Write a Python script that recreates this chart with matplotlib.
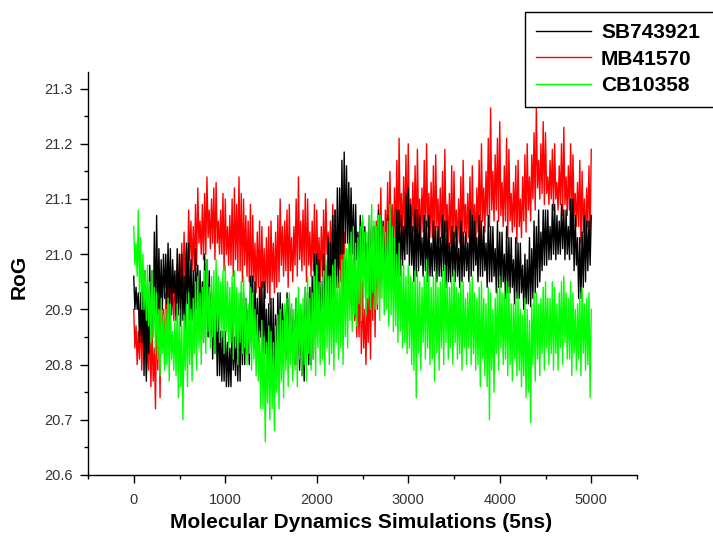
import numpy as np
import matplotlib
matplotlib.use('Agg')
import matplotlib.pyplot as plt
from matplotlib.ticker import MultipleLocator

plt.rcParams['font.family'] = ['Liberation Sans', 'DejaVu Sans']

# one sample every 12.5 units; each 50-unit block is hi1, lo1, hi2, lo2
step = 12.5
labels = ['SB743921', 'MB41570', 'CB10358']
colors = ['#000000', '#ff0000', '#00ff00']

sb_hi1 = [20.96, 20.93, 20.95, 20.92, 20.97, 21.07, 20.99, 21.00, 21.01, 20.97,
          21.00, 20.96, 21.02, 20.97, 20.98, 20.95, 20.99, 20.93, 20.92, 20.86,
          20.86, 20.83, 20.85, 20.88, 20.93, 20.90, 20.96, 20.92, 20.95, 20.90,
          20.92, 20.89, 20.93, 20.90, 20.92, 20.88, 20.90, 20.89, 20.93, 20.96,
          21.00, 20.95, 20.98, 21.02, 21.08, 21.12, 21.185, 21.13, 21.09, 21.04,
          21.06, 21.02, 21.05, 21.01, 21.07, 21.02, 21.05, 21.03, 21.08, 21.05,
          21.12, 21.05, 21.08, 21.03, 21.06, 21.02, 21.05, 21.03, 21.06, 21.02,
          21.04, 21.01, 21.04, 21.02, 21.07, 21.03, 21.06, 21.02, 21.05, 21.01,
          21.04, 21.00, 21.03, 20.99, 21.02, 20.98, 20.99, 21.01, 21.05, 21.04,
          21.08, 21.05, 21.09, 21.06, 21.08, 21.05, 21.10, 21.03, 21.04, 21.06,
          21.07]
sb_lo1 = [20.90, 20.84, 20.78, 20.82, 20.86, 20.89, 20.90, 20.91, 20.89, 20.88,
          20.87, 20.86, 20.88, 20.85, 20.87, 20.84, 20.85, 20.81, 20.78, 20.77,
          20.76, 20.76, 20.78, 20.77, 20.80, 20.80, 20.83, 20.81, 20.82, 20.80,
          20.77, 20.78, 20.82, 20.81, 20.82, 20.80, 20.79, 20.77, 20.80, 20.81,
          20.87, 20.86, 20.88, 20.88, 20.94, 21.00, 21.02, 21.00, 20.98, 20.96,
          20.97, 20.95, 20.96, 20.94, 20.96, 20.94, 20.96, 20.95, 20.96, 20.99,
          20.98, 20.95, 20.97, 20.96, 20.95, 20.96, 20.95, 20.96, 20.94, 20.95,
          20.95, 20.94, 20.96, 20.95, 20.97, 20.95, 20.96, 20.94, 20.95, 20.93,
          20.94, 20.92, 20.93, 20.91, 20.92, 20.90, 20.91, 20.92, 20.94, 20.97,
          20.98, 20.99, 20.99, 21.00, 20.99, 20.99, 20.97, 20.92, 20.94, 20.97]
sb_hi2 = [20.94, 20.93, 20.97, 20.98, 21.04, 21.01, 21.00, 21.02, 20.99, 21.01,
          21.00, 21.02, 20.99, 21.01, 20.97, 21.00, 20.97, 20.92, 20.90, 20.86,
          20.84, 20.88, 20.87, 20.93, 20.92, 20.96, 20.95, 20.94, 20.95, 20.91,
          20.92, 20.93, 20.91, 20.93, 20.90, 20.92, 20.90, 20.94, 20.94, 21.00,
          20.99, 21.00, 21.03, 21.07, 21.12, 21.17, 21.16, 21.12, 21.09, 21.07,
          21.05, 21.07, 21.05, 21.08, 21.06, 21.07, 21.05, 21.08, 21.07, 21.11,
          21.09, 21.08, 21.07, 21.07, 21.07, 21.06, 21.05, 21.07, 21.06, 21.05,
          21.05, 21.06, 21.04, 21.08, 21.06, 21.07, 21.05, 21.07, 21.05, 21.06,
          21.04, 21.05, 21.03, 21.03, 21.02, 21.00, 21.03, 21.06, 21.08, 21.08,
          21.08, 21.09, 21.07, 21.09, 21.08, 21.10, 21.07, 21.03, 21.07, 21.06]
sb_lo2 = [20.90, 20.84, 20.77, 20.86, 20.88, 20.90, 20.92, 20.91, 20.93, 20.89,
          20.88, 20.91, 20.88, 20.90, 20.87, 20.89, 20.85, 20.82, 20.78, 20.77,
          20.76, 20.79, 20.77, 20.80, 20.82, 20.84, 20.83, 20.85, 20.82, 20.80,
          20.76, 20.82, 20.83, 20.85, 20.82, 20.80, 20.78, 20.81, 20.80, 20.85,
          20.87, 20.89, 20.88, 20.92, 20.95, 21.00, 21.02, 21.00, 20.99, 20.98,
          20.98, 20.96, 20.97, 20.95, 20.96, 20.95, 20.97, 20.96, 20.98, 21.00,
          20.98, 20.96, 20.98, 20.97, 20.96, 20.97, 20.96, 20.97, 20.95, 20.96,
          20.96, 20.95, 20.97, 20.96, 20.98, 20.96, 20.97, 20.95, 20.96, 20.94,
          20.95, 20.93, 20.94, 20.92, 20.93, 20.91, 20.905, 20.93, 20.95, 20.98,
          20.99, 21.00, 21.00, 21.01, 21.00, 21.00, 20.98, 20.92, 20.95, 20.98]

mb_hi1 = [20.90, 20.86, 20.88, 20.84, 20.86, 20.90, 20.95, 20.93, 20.99, 20.96,
          21.00, 21.04, 21.08, 21.05, 21.12, 21.09, 21.14, 21.10, 21.13, 21.08,
          21.10, 21.07, 21.12, 21.14, 21.10, 21.06, 21.07, 21.04, 21.05, 21.03,
          21.06, 21.04, 21.10, 21.06, 21.09, 21.05, 21.14, 21.08, 21.10, 21.06,
          21.08, 21.05, 21.10, 21.06, 21.08, 21.03, 21.04, 21.00, 20.99, 20.94,
          20.95, 20.92, 21.00, 21.06, 21.12, 21.08, 21.15, 21.12, 21.21, 21.14,
          21.20, 21.13, 21.19, 21.12, 21.20, 21.13, 21.18, 21.12, 21.19, 21.11,
          21.15, 21.10, 21.17, 21.11, 21.16, 21.12, 21.20, 21.15, 21.265, 21.18,
          21.24, 21.16, 21.19, 21.13, 21.17, 21.14, 21.20, 21.18, 21.27, 21.20,
          21.22, 21.17, 21.20, 21.16, 21.23, 21.16, 21.18, 21.13, 21.15, 21.12,
          21.19]
mb_lo1 = [20.83, 20.81, 20.82, 20.79, 20.77, 20.79, 20.83, 20.84, 20.90, 20.89,
          20.94, 20.93, 20.99, 20.97, 21.02, 20.99, 21.03, 21.02, 21.02, 21.00,
          21.00, 20.98, 20.99, 20.97, 20.98, 20.95, 20.95, 20.94, 20.94, 20.93,
          20.95, 20.94, 20.98, 20.97, 20.97, 20.98, 20.99, 20.98, 20.98, 20.97,
          20.97, 20.96, 21.00, 20.98, 20.97, 20.95, 20.95, 20.91, 20.88, 20.85,
          20.83, 20.84, 20.88, 20.90, 20.99, 21.01, 21.03, 21.02, 21.05, 21.04,
          21.05, 21.04, 21.05, 21.04, 21.05, 21.03, 21.05, 21.03, 21.04, 21.02,
          21.03, 21.02, 21.04, 21.03, 21.03, 21.04, 21.06, 21.07, 21.08, 21.08,
          21.07, 21.06, 21.06, 21.05, 21.05, 21.06, 21.08, 21.10, 21.12, 21.11,
          21.11, 21.10, 21.10, 21.09, 21.09, 21.08, 21.07, 21.05, 21.04, 21.05]
mb_hi2 = [20.87, 20.89, 20.85, 20.88, 20.83, 20.92, 20.90, 20.97, 20.94, 20.98,
          21.02, 21.01, 21.06, 21.09, 21.06, 21.11, 21.08, 21.12, 21.06, 21.11,
          21.05, 21.10, 21.09, 21.11, 21.07, 21.09, 21.02, 21.06, 21.01, 21.05,
          21.02, 21.07, 21.05, 21.08, 21.03, 21.10, 21.06, 21.11, 21.04, 21.09,
          21.03, 21.08, 21.04, 21.09, 21.02, 21.06, 20.99, 21.02, 20.93, 20.97,
          20.90, 20.97, 21.03, 21.09, 21.05, 21.13, 21.09, 21.17, 21.11, 21.18,
          21.10, 21.16, 21.10, 21.17, 21.11, 21.16, 21.10, 21.15, 21.09, 21.16,
          21.08, 21.14, 21.09, 21.14, 21.09, 21.17, 21.12, 21.21, 21.15, 21.21,
          21.13, 21.21, 21.11, 21.16, 21.10, 21.18, 21.14, 21.22, 21.17, 21.24,
          21.14, 21.19, 21.13, 21.20, 21.14, 21.20, 21.11, 21.17, 21.10, 21.16]
mb_lo2 = [20.80, 20.79, 20.78, 20.76, 20.72, 20.74, 20.80, 20.86, 20.88, 20.90,
          20.92, 20.95, 20.97, 20.98, 21.00, 21.00, 21.01, 20.99, 21.00, 20.97,
          20.98, 20.96, 20.97, 20.95, 20.96, 20.92, 20.93, 20.91, 20.92, 20.91,
          20.93, 20.95, 20.96, 20.94, 20.95, 20.96, 20.97, 20.95, 20.96, 20.94,
          20.95, 20.97, 20.98, 20.95, 20.94, 20.92, 20.93, 20.88, 20.85, 20.82,
          20.80, 20.81, 20.85, 20.92, 20.97, 20.99, 21.00, 21.01, 21.03, 21.02,
          21.03, 21.02, 21.03, 21.01, 21.03, 21.01, 21.02, 21.00, 21.01, 21.00,
          21.01, 21.00, 21.02, 21.00, 21.01, 21.02, 21.04, 21.05, 21.06, 21.06,
          21.05, 21.03, 21.04, 21.02, 21.03, 21.04, 21.06, 21.08, 21.10, 21.09,
          21.09, 21.08, 21.08, 21.07, 21.07, 21.06, 21.05, 21.02, 21.01, 21.03]

cb_hi1 = [21.05, 21.08, 21.00, 20.98, 20.97, 20.93, 20.92, 20.90, 20.91, 20.88,
          20.90, 20.89, 20.93, 20.92, 20.96, 20.94, 20.99, 20.96, 20.99, 20.95,
          20.98, 20.94, 20.97, 20.93, 20.96, 20.91, 20.93, 20.89, 20.88, 20.84,
          20.86, 20.87, 20.90, 20.91, 20.93, 20.90, 20.94, 20.92, 20.96, 20.93,
          20.98, 20.95, 20.99, 20.96, 20.99, 20.97, 21.00, 21.02, 21.05, 21.03,
          21.07, 21.04, 21.09, 21.05, 21.07, 21.04, 21.09, 21.03, 21.02, 20.98,
          20.98, 20.95, 20.97, 20.94, 20.99, 20.94, 20.97, 20.95, 20.98, 20.94,
          20.97, 20.93, 20.95, 20.93, 20.96, 20.92, 20.95, 20.91, 20.93, 20.92,
          20.96, 20.93, 20.94, 20.91, 20.92, 20.89, 20.90, 20.91, 20.93, 20.92,
          20.95, 20.92, 20.94, 20.93, 20.96, 20.92, 20.93, 20.91, 20.94, 20.92,
          20.90]
cb_lo1 = [20.98, 20.93, 20.90, 20.87, 20.85, 20.81, 20.82, 20.80, 20.81, 20.78,
          20.76, 20.79, 20.80, 20.82, 20.83, 20.84, 20.86, 20.85, 20.86, 20.85,
          20.86, 20.84, 20.83, 20.84, 20.83, 20.82, 20.81, 20.77, 20.72, 20.73,
          20.72, 20.75, 20.77, 20.79, 20.80, 20.79, 20.81, 20.80, 20.82, 20.81,
          20.83, 20.81, 20.83, 20.82, 20.84, 20.83, 20.85, 20.88, 20.89, 20.91,
          20.92, 20.92, 20.93, 20.91, 20.92, 20.90, 20.89, 20.87, 20.86, 20.84,
          20.83, 20.79, 20.82, 20.84, 20.83, 20.81, 20.82, 20.83, 20.84, 20.83,
          20.84, 20.82, 20.83, 20.83, 20.82, 20.80, 20.81, 20.76, 20.79, 20.82,
          20.83, 20.81, 20.80, 20.81, 20.79, 20.78, 20.75, 20.80, 20.81, 20.82,
          20.83, 20.82, 20.82, 20.83, 20.84, 20.81, 20.82, 20.81, 20.82, 20.80]
cb_hi2 = [21.02, 21.03, 20.97, 20.95, 20.94, 20.90, 20.89, 20.92, 20.86, 20.91,
          20.87, 20.91, 20.90, 20.95, 20.93, 20.97, 20.94, 20.97, 20.96, 20.97,
          20.95, 20.96, 20.94, 20.95, 20.92, 20.94, 20.90, 20.86, 20.85, 20.87,
          20.84, 20.89, 20.88, 20.92, 20.91, 20.92, 20.91, 20.94, 20.92, 20.96,
          20.95, 20.97, 20.96, 20.98, 20.96, 20.99, 21.01, 21.04, 21.02, 21.05,
          21.04, 21.07, 21.06, 21.07, 21.05, 21.06, 21.05, 21.00, 20.99, 20.96,
          20.96, 20.97, 20.95, 20.96, 20.96, 20.96, 20.94, 20.97, 20.95, 20.96,
          20.94, 20.95, 20.92, 20.95, 20.93, 20.94, 20.92, 20.94, 20.90, 20.94,
          20.93, 20.95, 20.91, 20.93, 20.90, 20.92, 20.88, 20.93, 20.91, 20.94,
          20.92, 20.95, 20.91, 20.95, 20.93, 20.95, 20.90, 20.93, 20.91, 20.93]
cb_lo2 = [20.96, 20.90, 20.88, 20.84, 20.82, 20.78, 20.79, 20.77, 20.79, 20.74,
          20.70, 20.76, 20.77, 20.79, 20.80, 20.82, 20.83, 20.82, 20.84, 20.82,
          20.83, 20.81, 20.80, 20.82, 20.80, 20.79, 20.78, 20.72, 20.66, 20.70,
          20.68, 20.72, 20.74, 20.76, 20.77, 20.76, 20.78, 20.77, 20.79, 20.78,
          20.80, 20.78, 20.80, 20.79, 20.81, 20.80, 20.83, 20.86, 20.87, 20.88,
          20.89, 20.90, 20.90, 20.88, 20.89, 20.87, 20.86, 20.84, 20.83, 20.82,
          20.80, 20.74, 20.79, 20.81, 20.80, 20.77, 20.79, 20.80, 20.81, 20.80,
          20.81, 20.79, 20.80, 20.80, 20.79, 20.76, 20.78, 20.70, 20.75, 20.79,
          20.80, 20.78, 20.77, 20.78, 20.76, 20.74, 20.695, 20.77, 20.78, 20.79,
          20.80, 20.79, 20.79, 20.80, 20.81, 20.78, 20.79, 20.78, 20.79, 20.74]


def trace(hi1, lo1, hi2, lo2):
    n = len(lo1)
    y = np.empty(4 * n + 1)
    y[0::4] = hi1
    y[1::4] = lo1
    y[2::4] = hi2
    y[3::4] = lo2
    x = np.arange(len(y)) * step
    return x, y


fig = plt.figure(figsize=(7.13, 5.43), dpi=100)
ax = fig.add_axes([88 / 713, 68 / 543, 549 / 713, 403 / 543])

series = [trace(sb_hi1, sb_lo1, sb_hi2, sb_lo2),
          trace(mb_hi1, mb_lo1, mb_hi2, mb_lo2),
          trace(cb_hi1, cb_lo1, cb_hi2, cb_lo2)]
zorders = [2, 1, 3]  # red sits under black, green on top
handles = []
for (x, y), lab, col, z in zip(series, labels, colors, zorders):
    line, = ax.plot(x, y, color=col, lw=1.0, label=lab, zorder=z)
    handles.append(line)

ax.set_xlim(-500, 5500)
ax.set_ylim(20.6, 21.33)
ax.xaxis.set_major_locator(MultipleLocator(1000))
ax.xaxis.set_minor_locator(MultipleLocator(500))
ax.yaxis.set_major_locator(MultipleLocator(0.1))
ax.yaxis.set_minor_locator(MultipleLocator(0.05))
ax.yaxis.set_major_formatter(matplotlib.ticker.FormatStrFormatter('%.1f'))

for side in ['top', 'right']:
    ax.spines[side].set_visible(False)
for side in ['left', 'bottom']:
    ax.spines[side].set_linewidth(1.0)

ax.tick_params(which='major', direction='out', length=6, width=1, labelsize=10.5,
               labelcolor='#333333')
ax.tick_params(which='minor', direction='out', length=3, width=1)
ax.tick_params(axis='x', pad=7)
ax.tick_params(axis='y', pad=5)

fig.text(19 / 713, 1 - 277 / 543, 'RoG', rotation=90, ha='center', va='center',
         fontsize=15, fontweight='bold')
fig.text(361 / 713, 1 - 523 / 543, 'Molecular Dynamics Simulations (5ns)', ha='center',
         va='center', fontsize=15, fontweight='bold')

leg = fig.legend(handles, labels, loc='upper left',
                 bbox_to_anchor=(525 / 713, 1 - 12 / 543, 200 / 713, 0), mode='expand',
                 borderaxespad=0, fancybox=False, edgecolor='black', framealpha=1,
                 prop={'weight': 'bold', 'size': 15}, handlelength=2.6,
                 handletextpad=0.5, labelspacing=0.35, borderpad=0.55)
leg.get_frame().set_linewidth(1.0)
for h in leg.legend_handles:
    h.set_linewidth(1.0)

fig.savefig('out.png', dpi=100)
